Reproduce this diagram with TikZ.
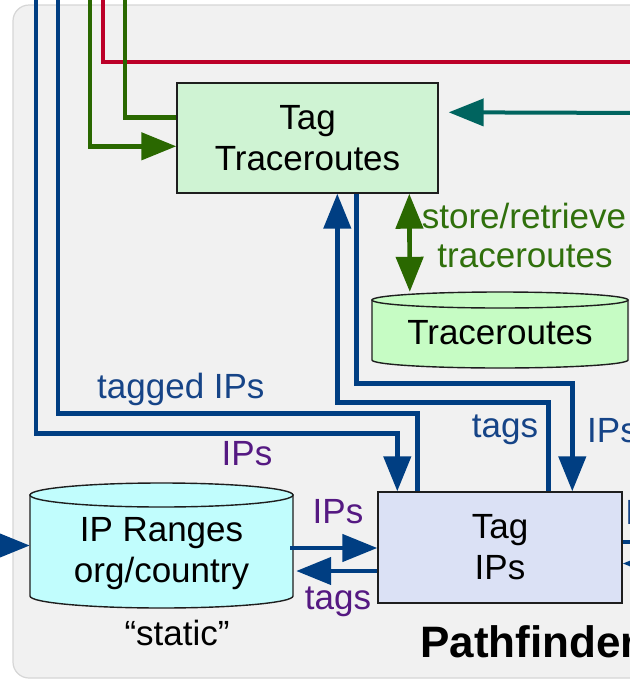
\documentclass[tikz,border=0pt]{standalone}
\usepackage{fontspec}
\setmainfont{Liberation Sans}
\usetikzlibrary{arrows.meta,calc}

\definecolor{panelfill}{RGB}{241,241,241}
\definecolor{panelline}{RGB}{214,214,214}
\definecolor{boxline}{RGB}{30,30,30}
\definecolor{ttrfill}{RGB}{207,243,211}
\definecolor{trcfill}{RGB}{198,252,196}
\definecolor{iprfill}{RGB}{193,253,253}
\definecolor{tipfill}{RGB}{219,225,245}
\definecolor{flowblue}{RGB}{0,62,130}
\definecolor{labelblue}{RGB}{22,68,135}
\definecolor{labelpurple}{RGB}{85,25,130}
\definecolor{flowgreen}{RGB}{42,104,0}
\definecolor{labelgreen}{RGB}{48,112,12}
\definecolor{flowteal}{RGB}{0,100,95}
\definecolor{flowred}{RGB}{188,0,40}

\newcommand\mainsize{\fontsize{35}{41}\selectfont}
\newcommand\titlesize{\fontsize{44}{50}\selectfont\bfseries}

% cylinder: centre x, top-ellipse y, bottom-ellipse y, x radius, y radius, fill
\newcommand\drawdbcyl[6]{%
  \filldraw[draw=boxline, line width=1.4pt, fill=#6]
    ({#1-#4},#2) -- ({#1-#4},#3)
    arc[start angle=180, end angle=360, x radius=#4pt, y radius=#5pt]
    -- ({#1+#4},#2) -- cycle;
  \filldraw[draw=boxline, line width=1.4pt, fill=#6]
    (#1,#2) ellipse[x radius=#4pt, y radius=#5pt];
}

\begin{document}
\begin{tikzpicture}[x=1pt, y=-1pt,
  procbox/.style={draw=boxline, line width=1.4pt, inner sep=0pt,
    align=center, font=\mainsize},
  anchorbox/.style={inner sep=0pt},
  cyltext/.style={inner sep=0pt, align=center, font=\mainsize},
  tip/.style={-{Triangle[length=35pt, width=27pt]}},
  blueline/.style={draw=flowblue, line width=4.6pt},
  bluearrow/.style={blueline, tip, flowblue},
  greenline/.style={draw=flowgreen, line width=4.6pt},
  greenarrow/.style={greenline, tip, flowgreen},
  greendouble/.style={greenline, flowgreen,
    {Triangle[length=35pt, width=27pt]}-{Triangle[length=35pt, width=27pt]}},
  redline/.style={draw=flowred, line width=4pt},
  tealarrow/.style={draw=flowteal, line width=4pt, tip, flowteal},
  lbl/.style={inner sep=0pt, font=\mainsize, anchor=base},
]
\clip (0,0) rectangle (630,681);
\fill[white] (0,0) rectangle (630,681);

% Pathfinder panel
\filldraw[fill=panelfill, draw=panelline, line width=1.2pt, rounded corners=16pt]
  (13,5) rectangle (690,678);

% free ends at the picture border
\coordinate (topA) at (36,-5);
\coordinate (topB) at (58,-5);
\coordinate (topG1) at (90,-5);
\coordinate (topR) at (103,-5);
\coordinate (topG2) at (125,-5);
\coordinate (rightR) at (650,62);
\coordinate (rightT) at (650,113);
\coordinate (leftIn) at (-5,545.5);
\coordinate (rightOut) at (650,542);
\coordinate (rightIn) at (660,563.5);

% process boxes
\node[procbox, fill=ttrfill, minimum width=261pt, minimum height=110pt]
  (ttr) at (307.5,138) {Tag\\Traceroutes};
\node[procbox, fill=tipfill, minimum width=244pt, minimum height=111pt]
  (tagips) at (500,547.5) {Tag\\IPs};

% databases
\drawdbcyl{500}{300}{360}{128}{8}{trcfill}
\node[anchorbox, minimum width=256pt, minimum height=76pt] (trc) at (500,330) {};
\node[cyltext] (trclabel) at (500,333) {Traceroutes};

\drawdbcyl{161.5}{495}{596}{131.5}{12}{iprfill}
\node[anchorbox, minimum width=263pt, minimum height=125pt] (ipr) at (161.5,545.5) {};
\node[cyltext] (iprlabel) at (161.5,554) {IP Ranges\\org/country};

% red and green feeds from above
\draw[redline] (topR) |- (rightR);
\draw[greenline] ($(ttr.north west)+(0,35)$) -| (topG2);
\draw[greenarrow] (topG1) |- ($(ttr.north west)+(0,64)$);
\draw[tealarrow] (rightT) -- ($(ttr.north east)+(10,30)$);
\draw[greendouble] ($(ttr.south west)+(233,0)$) -- ($(trc.north west)+(38,0)$);

% blue IP / tag flows
\draw[bluearrow] (topA) |- ($(tagips.north west)+(20,-58)$)
  -- ($(tagips.north west)+(20,0)$);
\draw[blueline] ($(tagips.north west)+(40,0)$) -- ++(0,-78) -| (topB);
\draw[bluearrow] ($(tagips.north west)+(171,0)$) -- ++(0,-89)
  -| ($(ttr.south west)+(161,0)$);
\draw[bluearrow] ($(ttr.south west)+(180,0)$) -- ++(0,190)
  -| ($(tagips.north west)+(195,0)$);
\draw[bluearrow] (leftIn) -- (ipr.west);
\draw[bluearrow] ($(ipr.east)+(-3,2.5)$) -- ($(tagips.west)+(0,0.5)$);
\draw[bluearrow] ($(tagips.west)+(0,23.5)$) -- ($(ipr.east)+(3,25.5)$);
\draw[blueline] ($(tagips.east)+(0,-5.5)$) -- (rightOut);
\draw[bluearrow] (rightIn) -- ($(tagips.east)+(0,16)$);

% labels
\node[lbl, anchor=base west, text=labelblue] (lTagged) at (97,398) {tagged IPs};
\node[lbl, text=labelpurple] (lIPsA) at (247,465) {IPs};
\node[lbl, text=labelblue] (lTags) at (505,437) {tags};
\node[lbl, anchor=base west, text=labelblue] (lIPsB) at (587,442) {IPs};
\node[lbl, text=labelgreen] (lStore) at (524,228) {store/retrieve};
\node[lbl, text=labelgreen] (lTrc) at (525,267) {traceroutes};
\node[lbl, text=labelpurple] (lIPsC) at (338,523) {IPs};
\node[lbl, text=labelpurple] (lTagsC) at (338,609) {tags};
\node[lbl, anchor=base west, text=labelblue] (lIPsD) at (625,524) {IPs};
\node[lbl] (lStatic) at (177,645) {“static”};
\node[inner sep=0pt, anchor=base west, font=\titlesize] (lTitle) at (420,657) {Pathfinder};
\end{tikzpicture}
\end{document}
